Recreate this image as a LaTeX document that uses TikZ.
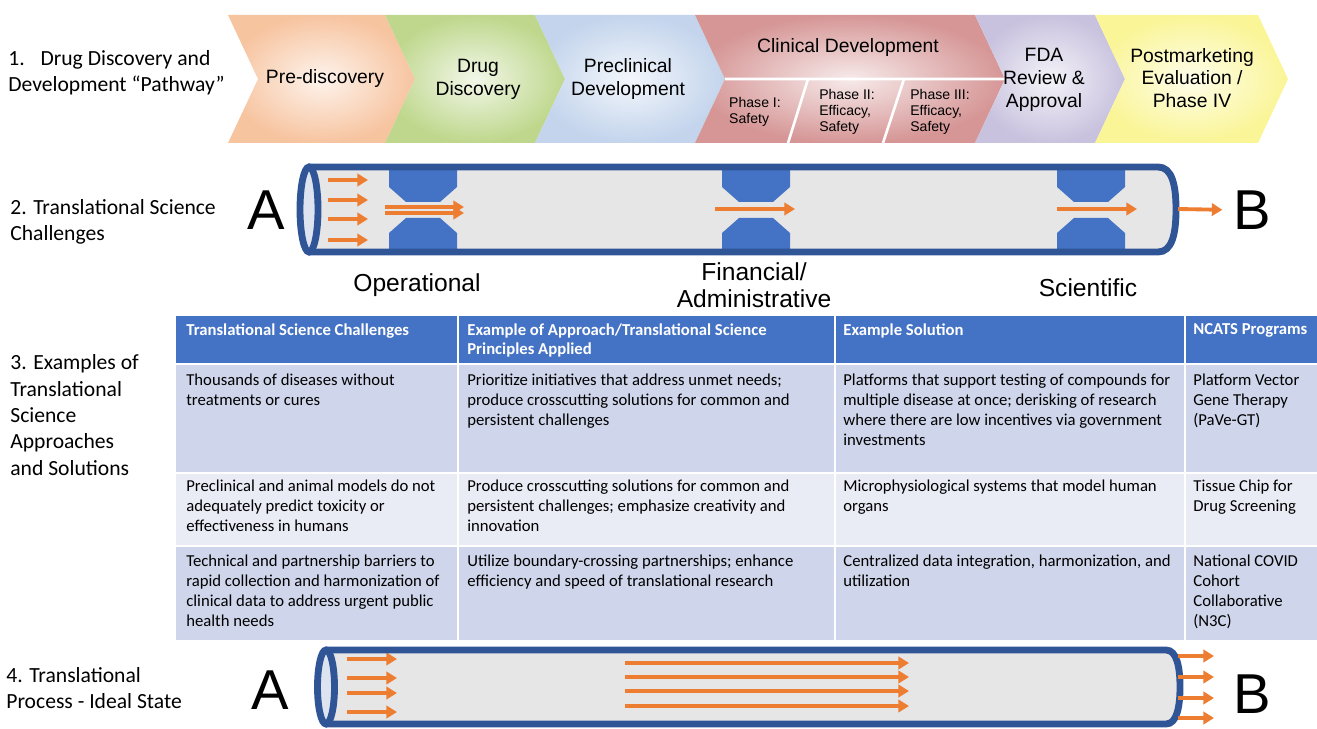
\documentclass[tikz,border=0pt]{standalone}
\usepackage{fontspec}
\setmainfont{Carlito}
\newfontfamily\arialfont{Liberation Sans}
\usepackage{tikz}
\usetikzlibrary{arrows.meta,positioning}
\usepackage{xcolor}
\definecolor{ncpeach}{RGB}{247,196,160}
\definecolor{ncgreen}{RGB}{190,215,140}
\definecolor{ncblue}{RGB}{195,212,236}
\definecolor{ncpink}{RGB}{214,150,150}
\definecolor{nclav}{RGB}{200,194,222}
\definecolor{ncyellow}{RGB}{250,245,150}
\definecolor{pipeblue}{RGB}{47,85,151}
\definecolor{pipegray}{RGB}{231,230,230}
\definecolor{pipeend}{RGB}{221,228,240}
\definecolor{plugblue}{RGB}{68,114,196}
\definecolor{flowor}{RGB}{237,125,49}
\definecolor{thead}{RGB}{68,114,196}
\definecolor{rowdark}{RGB}{207,213,234}
\definecolor{rowlight}{RGB}{233,235,245}
\tikzstyle{chevtext} = [font=\arialfont\fontsize{11}{13}\selectfont, align=center, inner sep=0pt]
\tikzstyle{phasetext} = [font=\arialfont\fontsize{8}{9.3}\selectfont, align=left, inner sep=0pt]
\tikzstyle{seclabel} = [font=\fontsize{12.3}{15}\selectfont, align=left, anchor=west, inner sep=0pt]
\tikzstyle{barrier} = [font=\arialfont\fontsize{14}{15.4}\selectfont, align=center, inner sep=0pt]
\tikzstyle{endpoint} = [font=\arialfont\fontsize{32}{36}\selectfont, inner sep=0pt]
\tikzstyle{headtext} = [font=\bfseries\fontsize{9.5}{11.3}\selectfont, text=white, align=left, anchor=north west, inner sep=0pt]
\tikzstyle{celltext} = [font=\fontsize{9.5}{11.3}\selectfont, align=left, anchor=north west, inner sep=0pt]
\tikzstyle{pipewall} = [draw=pipeblue, line width=3.9pt]
\tikzstyle{flow} = [->, >={Triangle[length=6pt, width=7pt]}, line width=2.2pt, draw=flowor]

\begin{document}
\begin{tikzpicture}[x=0.02cm, y=-0.02cm]
\useasboundingbox (0,0) rectangle (1317,729);
% Pathway
\foreach \xa/\xb/\col in {228/385/ncpeach, 385/535/ncgreen, 535/695/ncblue, 695/975/ncpink, 975/1095/nclav, 1095/1258/ncyellow}
  \shade[inner color=\col!20!white, outer color=\col] (\xa,15) -- (\xb,15) -- ({\xb+30},79) -- (\xb,143) -- (\xa,143) -- ({\xa+30},79) -- cycle;
\draw[white, line width=1.5pt] (725,79) -- (1005,79) (788,143) -- (808,79) (883,143) -- (904,79);

\node[chevtext] (predisc) at (325,79) {Pre-discovery};
\node[chevtext] (drugdisc) at (478,79) {Drug\\Discovery};
\node[chevtext] (preclin) at (628,79) {Preclinical\\Development};
\node[chevtext] (clindev) at (848,48) {Clinical Development};
\node[phasetext] (phase1) at (755,112) {Phase I:\\Safety};
\node[phasetext] (phase2) at (847,112) {Phase II:\\Efficacy,\\Safety};
\node[phasetext] (phase3) at (940,112) {Phase III:\\Efficacy,\\Safety};
\node[chevtext] (fdarev) at (1044,80) {FDA\\Review \&\\Approval};
\node[chevtext] (postmkt) at (1192,78) {Postmarketing\\Evaluation /\\Phase IV};

% Section labels
\node[seclabel] (lab1) at (8,73) {1.\hspace{9pt}Drug Discovery and\\Development “Pathway”};
\node[seclabel] (lab2) at (10,222) {2. Translational Science\\Challenges};
\node[seclabel] (lab3) at (10,415) {3. Examples of\\Translational\\Science\\Approaches\\and Solutions};
\node[seclabel] (lab4) at (6,688) {4. Translational\\Process - Ideal State};

% Challenges pipe
\fill[pipegray] (309,167) -- (1158,167) .. controls (1172,167) and (1176,185) .. (1176,209.5) .. controls (1176,234) and (1172,252) .. (1158,252) -- (309,252) -- cycle;
\foreach \bx in {389,722,1057} {
  \fill[plugblue] (\bx,170) -- ({\bx+68},170) -- ({\bx+68},187) -- ({\bx+51},202) -- ({\bx+17},202) -- (\bx,187) -- cycle;
  \fill[plugblue] (\bx,249) -- ({\bx+68},249) -- ({\bx+68},233) -- ({\bx+51},218) -- ({\bx+17},218) -- (\bx,233) -- cycle;
}
\foreach \ay in {180,200,219,240}
  \draw[flow] (328,\ay) -- (368,\ay);
\draw[flow] (385,207) -- (464,207);
\draw[flow] (385,213) -- (464,213);
\draw[flow] (715,209) -- (795,209);
\draw[flow] (1057,209) -- (1137,209);
\draw[pipewall] (309,167) -- (1158,167) .. controls (1172,167) and (1176,185) .. (1176,209.5) .. controls (1176,234) and (1172,252) .. (1158,252) -- (309,252);
\draw[pipewall, fill=pipeend] (309,209.5) ellipse [x radius=9, y radius=42.5];
\node[endpoint] (a1) at (266,210) {A};
\node[endpoint] (b1) at (1252,210) {B};
\coordinate (exit1) at (1178,209);
\draw[flow, shorten >=6pt] (exit1) -- (b1.west);

\node[barrier] (oper) at (417,285) {Operational};
\node[barrier] (finadm) at (754,285) {Financial/\\Administrative};
\node[barrier] (scien) at (1088,288) {Scientific};

% Table
\foreach \ya/\yb/\col in {316/363/thead, 365/472/rowdark, 474/545/rowlight, 547/640/rowdark}
  \foreach \xa/\xb in {176/457, 459/834, 836/1184, 1186/1317}
    \fill[\col] (\xa,\ya) rectangle (\xb,\yb);

\node[headtext] (h1) at (186,323) {Translational Science Challenges};
\node[headtext] (h2) at (467,323) {Example of Approach/Translational Science\\Principles Applied};
\node[headtext] (h3) at (843,323) {Example Solution};
\node[headtext] (h4) at (1193,323) {NCATS Programs};

\node[celltext] (r1c1) at (186,374) {Thousands of diseases without\\treatments or cures};
\node[celltext] (r1c2) at (467,374) {Prioritize initiatives that address unmet needs;\\produce crosscutting solutions for common and\\persistent challenges};
\node[celltext] (r1c3) at (843,374) {Platforms that support testing of compounds for\\multiple disease at once; derisking of research\\where there are low incentives via government\\investments};
\node[celltext] (r1c4) at (1193,374) {Platform Vector\\Gene Therapy\\(PaVe-GT)};

\node[celltext] (r2c1) at (186,480) {Preclinical and animal models do not\\adequately predict toxicity or\\effectiveness in humans};
\node[celltext] (r2c2) at (467,480) {Produce crosscutting solutions for common and\\persistent challenges; emphasize creativity and\\innovation};
\node[celltext] (r2c3) at (843,480) {Microphysiological systems that model human\\organs};
\node[celltext] (r2c4) at (1193,480) {Tissue Chip for\\Drug Screening};

\node[celltext] (r3c1) at (186,555) {Technical and partnership barriers to\\rapid collection and harmonization of\\clinical data to address urgent public\\health needs};
\node[celltext] (r3c2) at (467,555) {Utilize boundary-crossing partnerships; enhance\\efficiency and speed of translational research};
\node[celltext] (r3c3) at (843,555) {Centralized data integration, harmonization, and\\utilization};
\node[celltext] (r3c4) at (1193,555) {National COVID\\Cohort\\Collaborative\\(N3C)};

% Ideal pipe
\fill[pipegray] (326,650) -- (1166,650) .. controls (1177,650) and (1180,668) .. (1180,687) .. controls (1180,706) and (1177,724) .. (1166,724) -- (326,724) -- cycle;
\foreach \ay in {659,678,693,712}
  \draw[flow] (347,\ay) -- (397,\ay);
\foreach \ay in {663,677,691,706}
  \draw[flow] (625,\ay) -- (909,\ay);
\draw[pipewall] (326,650) -- (1166,650) .. controls (1177,650) and (1180,668) .. (1180,687) .. controls (1180,706) and (1177,724) .. (1166,724) -- (326,724);
\draw[pipewall, fill=pipeend] (326,687) ellipse [x radius=8.5, y radius=37];
\foreach \ay in {656,677,698,718}
  \draw[flow] (1178,\ay) -- (1214,\ay);
\node[endpoint] (a2) at (270,690) {A};
\node[endpoint] (b2) at (1252,694) {B};
\end{tikzpicture}
\end{document}
